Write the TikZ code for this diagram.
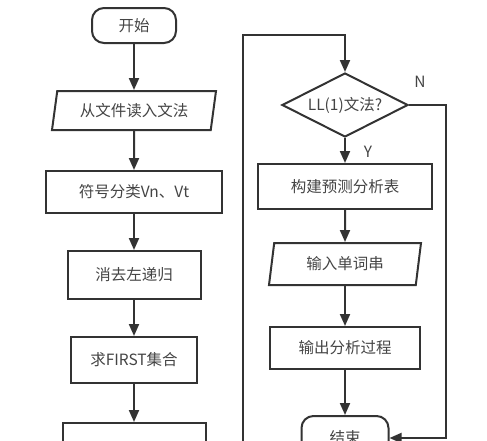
\documentclass[tikz,border=0pt]{standalone}
\usepackage{fontspec}
\newfontfamily\cjk{Noto Sans CJK SC}
\usetikzlibrary{shapes.geometric,arrows.meta}
\definecolor{linegray}{HTML}{333333}
\definecolor{textgray}{HTML}{444444}
\begin{document}
\begin{tikzpicture}[x=1pt,y=-1pt,
	font=\cjk\fontsize{15.5}{18}\selectfont,
	box/.style={draw=linegray, line width=2pt, text=textgray, inner sep=0pt},
	process/.style={box, rectangle},
	terminal/.style={box, rectangle, rounded corners=12pt, minimum width=84pt, minimum height=35pt},
	io/.style={box, trapezium, trapezium left angle=70, trapezium right angle=110, trapezium stretches body},
	decision/.style={box, diamond, aspect=2, minimum width=126pt, minimum height=64pt},
	flow/.style={draw=linegray, line width=2pt, -{Triangle[length=12pt,width=10pt]}},
	lab/.style={text=textgray}]
		\useasboundingbox (0,0) rectangle (487,440);
		\clip (0,0) rectangle (487,440);
		
		\node[terminal] (start) at (134,25.5) {开始};
		\node[io, minimum width=164pt, minimum height=39pt] (read) at (134,110.5) {从文件读入文法};
		\node[process, minimum width=176pt, minimum height=42pt] (sort) at (134,192) {符号分类Vn、Vt};
		\node[process, minimum width=133pt, minimum height=48pt] (leftrec) at (134,275) {消去左递归};
		\node[process, minimum width=126pt, minimum height=46pt] (first) at (134,360) {求FIRST集合};
		\node[process, minimum width=143pt, minimum height=46pt] (follow) at (134,446) {};
		
		\node[decision] (check) at (345,105) {LL(1)文法?};
		\node[process, minimum width=174pt, minimum height=45pt] (table) at (345,186.5) {构建预测分析表};
		\node[io, minimum width=152pt, minimum height=42pt] (input) at (345,264) {输入单词串};
		\node[process, minimum width=150pt, minimum height=42pt] (output) at (345,348) {输出分析过程};
		\node[terminal, minimum width=87pt, minimum height=44pt] (stop) at (345,438) {结束};
		
		\node[lab] (nlab) at (420,82) {N};
		\node[lab] (ylab) at (368,152) {Y};
		
		\coordinate (loopbot) at (243,470);
		\coordinate (looptop) at (345,35);
		\coordinate (ncorner) at (446,300);
		
		\draw[flow] (start) -- (read);
		\draw[flow] (read) -- (sort);
		\draw[flow] (sort) -- (leftrec);
		\draw[flow] (leftrec) -- (first);
		\draw[flow] (first) -- (follow);
		
		\draw[flow] (loopbot) |- (looptop) -- (check);
		\draw[flow] (check) -- (table);
		\draw[flow] (table) -- (input);
		\draw[flow] (input) -- (output);
		\draw[flow] (output) -- (stop);
		\draw[flow] (check.east) -| (ncorner) |- (stop.east);
\end{tikzpicture}
\end{document}
